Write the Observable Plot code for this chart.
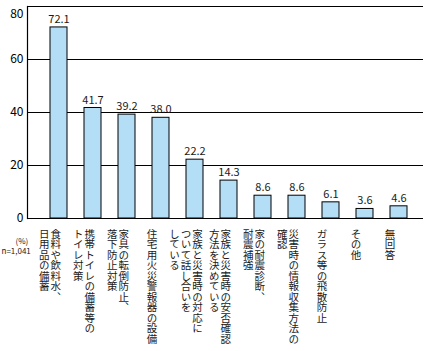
<!DOCTYPE html>
<html>
<head>
<meta charset="utf-8">
<script src="https://cdn.jsdelivr.net/npm/d3@7"></script>
<script src="https://cdn.jsdelivr.net/npm/@observablehq/plot@0.6"></script>
<style>
  html, body { margin: 0; padding: 0; background: #fff; }
  #chart { width: 434px; height: 351px; }
  text.vlabel { writing-mode: vertical-rl; }
</style>
</head>
<body>
<div id="chart"></div>
<script>
const categories = [
  "食料や飲料水、\n日用品の備蓄",
  "携帯トイレの備蓄等の\nトイレ対策",
  "家具の転倒防止、\n落下防止対策",
  "住宅用火災警報器の設備",
  "家族と災害時の対応に\nついて話し合いを\nしている",
  "家族と災害時の安否確認\n方法を決めている",
  "家の耐震診断、\n耐震補強",
  "災害時の情報収集方法の\n確認",
  "ガラス等の飛散防止",
  "その他",
  "無回答"
];
const values = [72.1, 41.7, 39.2, 38.0, 22.2, 14.3, 8.6, 8.6, 6.1, 3.6, 4.6];
const yTicks = [0, 20, 40, 60, 80];
const unitLabel = "(%)";
const sampleLabel = "n=1,041";

const data = categories.map((c, i) => ({cat: c, value: values[i]}));

// split labels into vertical columns
const colW = 11.5;
const shift = -9;
const lines = [];
categories.forEach(c => {
  const parts = c.split("\n");
  const n = parts.length;
  parts.forEach((p, i) => lines.push({cat: c, text: p, off: ((n - 1) / 2 - i) * colW + shift}));
});
const offsets = Array.from(new Set(lines.map(d => d.off)));
const lineTexts = new Set(lines.map(d => d.text));

const font = "'Noto Sans CJK JP', 'Noto Sans', sans-serif";

const labelMarks = offsets.map(o => Plot.text(lines.filter(d => d.off === o), {
  x: "cat",
  text: "text",
  frameAnchor: "bottom",
  dx: o,
  dy: 10,
  textAnchor: "start",
  lineAnchor: "bottom",
  fontSize: 10.5,
  fill: "#1a1a1a"
}));

const chart = Plot.plot({
  width: 434,
  height: 351,
  marginTop: 6,
  marginBottom: 133,
  marginLeft: 27,
  marginRight: 11,
  style: {fontFamily: font, background: "#fff"},
  x: {domain: categories, range: [32.7, 425.3], padding: 0.49, axis: null},
  y: {domain: [0, 80], ticks: yTicks, tickSize: 0, tickPadding: 4, label: null, tickFormat: d => d},
  marks: [
    Plot.ruleY(yTicks, {stroke: "#000", strokeWidth: 1.2}),
    Plot.frame({anchor: "left", stroke: "#000", strokeWidth: 1.2}),
    Plot.barY(data, {x: "cat", y: "value", fill: "#b4def5", stroke: "#000", strokeWidth: 1}),
    Plot.text(data, {x: "cat", y: "value", text: d => d.value.toFixed(1), dy: -8, fontSize: 11, fill: "#1a1a1a"}),
    ...labelMarks,
    Plot.text([unitLabel], {frameAnchor: "bottom-left", dx: -12, dy: 25, fontSize: 8, fill: "#1a1a1a"}),
    Plot.text([sampleLabel], {frameAnchor: "bottom-left", dx: -26, dy: 35, textAnchor: "start", fontSize: 8, fill: "#1a1a1a"})
  ]
});

chart.querySelectorAll('text').forEach(t => {
  if (lineTexts.has(t.textContent)) {
    t.classList.add("vlabel");
    t.setAttribute("writing-mode", "vertical-rl");
    t.style.writingMode = "vertical-rl";
    t.removeAttribute("dy");
  }
});
chart.querySelectorAll('g[aria-label="y-axis tick label"] text').forEach(t => {
  t.style.fontSize = "12px";
  if (t.textContent === "80") t.setAttribute("dy", "0.6em");
});
document.getElementById("chart").appendChild(chart);
</script>
</body>
</html>
